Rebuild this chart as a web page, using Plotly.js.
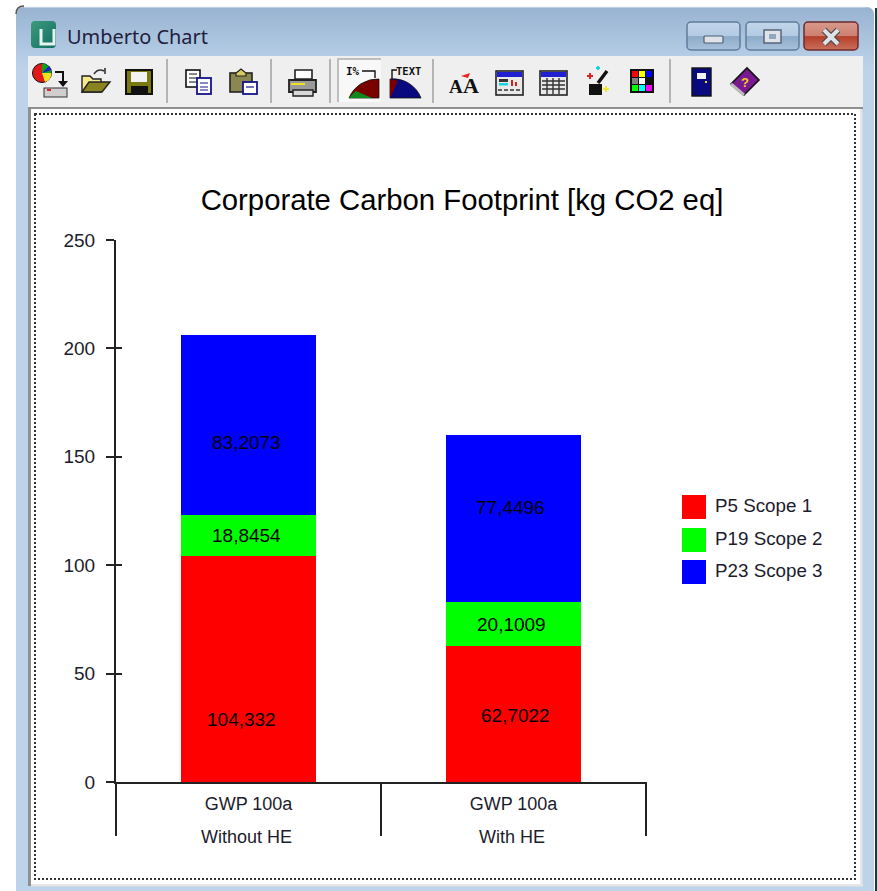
<!DOCTYPE html>
<html>
<head>
<meta charset="utf-8">
<title>Umberto Chart</title>
<script src="https://cdn.plot.ly/plotly-3.0.1.min.js"></script>
<style>
  html, body { margin: 0; padding: 0; background: #fff; }
  #stage { position: relative; width: 877px; height: 891px; overflow: hidden; }
  #frame, #chart { position: absolute; left: 0; top: 0; width: 877px; height: 891px; }
</style>
</head>
<body>
<div id="stage">
<!-- Application window around the chart: title bar, buttons, toolbar, client area -->
<svg id="frame" xmlns="http://www.w3.org/2000/svg" width="877" height="891" viewBox="0 0 877 891">
  <defs>
    <linearGradient id="cap" x1="0" y1="0" x2="0" y2="1">
      <stop offset="0" stop-color="#98b3d1"/><stop offset="0.07" stop-color="#bcd3ea"/>
    </linearGradient>
    <linearGradient id="btn" x1="0" y1="0" x2="0" y2="1">
      <stop offset="0" stop-color="#c3d6ea"/><stop offset="0.5" stop-color="#b2cae3"/>
      <stop offset="0.52" stop-color="#8caac8"/><stop offset="1" stop-color="#a9c2dc"/>
    </linearGradient>
    <linearGradient id="cls" x1="0" y1="0" x2="0" y2="1">
      <stop offset="0" stop-color="#d79a8e"/><stop offset="0.5" stop-color="#cf7f6f"/>
      <stop offset="0.52" stop-color="#b5402a"/><stop offset="1" stop-color="#c9705c"/>
    </linearGradient>
    <linearGradient id="app" x1="0" y1="0" x2="1" y2="1">
      <stop offset="0" stop-color="#3f9a7d"/><stop offset="1" stop-color="#0f6f63"/>
    </linearGradient>
  </defs>

  <path d="M16 891V14Q16 7 24 7H866Q874 7 874 15V891Z" fill="url(#cap)"/>
  <path d="M24 7H866" stroke="#e8eef5" fill="none"/>
  <path d="M16 14Q16 6 24 6" stroke="#555" fill="none" stroke-width="1.5"/>
  <rect x="875" y="8" width="2" height="883" fill="#1b3a40"/>

  <!-- title bar -->
  <rect x="31" y="21" width="25" height="27" rx="4" fill="url(#app)"/>
  <path d="M41 29V44H54V29" fill="none" stroke="#e8f3f0" stroke-width="3"/>
  <text x="67" y="44" font-family="Noto Sans, Open Sans, sans-serif" font-size="20.5" fill="#1f1d3d" textLength="141" lengthAdjust="spacingAndGlyphs">Umberto Chart</text>

  <rect x="687" y="22" width="53" height="28" rx="4" fill="url(#btn)" stroke="#5f7c9c" stroke-width="1.5"/>
  <rect x="704" y="36" width="19" height="7" rx="1" fill="#dfe3e8" stroke="#4d5e72" stroke-width="1.2"/>
  <rect x="746" y="22" width="53" height="28" rx="4" fill="url(#btn)" stroke="#5f7c9c" stroke-width="1.5"/>
  <rect x="764" y="30" width="17" height="13" fill="#dfe3e8" stroke="#4d5e72" stroke-width="1.4"/>
  <rect x="769" y="34" width="7" height="5" fill="#8fa8c2"/>
  <rect x="804" y="22" width="54" height="28" rx="4" fill="url(#cls)" stroke="#6e2a2c" stroke-width="1.5"/>
  <path d="M824 30L838 44M838 30L824 44" stroke="#4a4a4a" stroke-width="6.5"/>
  <path d="M824 30L838 44M838 30L824 44" stroke="#dfe3e8" stroke-width="4"/>

  <!-- toolbar strip -->
  <rect x="28" y="56" width="835" height="51" fill="#efefef"/>
  <g stroke="#b4b4b4" stroke-width="2">
    <path d="M167 59V103M271 59V103M330 59V103M433 59V103M670 59V103"/>
  </g>

  <!-- new chart -->
  <g>
    <circle cx="42" cy="73" r="9.5" fill="#e21818" stroke="#111" stroke-width="1"/>
    <path d="M42 73V63.5A9.5 9.5 0 0 1 51.5 73Z" fill="#10a020"/>
    <path d="M42 73H51.5A9.5 9.5 0 0 1 45 82Z" fill="#f0e020"/>
    <path d="M42 73L51.5 70A9.5 9.5 0 0 0 49 66Z" fill="#2020c0"/>
    <path d="M55 72H63V82" fill="none" stroke="#111" stroke-width="2"/>
    <path d="M58 81H68L63 87Z" fill="#111"/>
    <rect x="44" y="88" width="23" height="9" fill="#cfcfcf" stroke="#333" stroke-width="1"/>
    <rect x="47" y="89" width="4" height="2" fill="#e02020"/>
  </g>
  <!-- open -->
  <path d="M82 76H90L93 79H101V92H82Z" fill="#f6e98e" stroke="#222" stroke-width="1.4"/>
  <path d="M82 92L89 82H110L102 92Z" fill="#8a8420" stroke="#222" stroke-width="1.4"/>
  <path d="M94 74Q98 68 104 71M105 68V74" fill="none" stroke="#333" stroke-width="1.6"/>
  <!-- save -->
  <rect x="126" y="70" width="26" height="24" fill="#7b7a12" stroke="#111" stroke-width="2"/>
  <rect x="131" y="72" width="16" height="10" fill="#f3f3f3"/>
  <rect x="131" y="86" width="17" height="8" fill="#111"/>
  <!-- copy -->
  <rect x="186" y="70" width="14" height="17" fill="#fff" stroke="#111" stroke-width="1.6"/>
  <path d="M189 74H197M189 78H197M189 82H197" stroke="#111" stroke-width="1.2"/>
  <rect x="197" y="78" width="14" height="16" fill="#fff" stroke="#14148c" stroke-width="1.8"/>
  <path d="M200 83H208M200 87H208M200 90H208" stroke="#14148c" stroke-width="1.2"/>
  <!-- paste -->
  <rect x="230" y="73" width="22" height="19" fill="#8a8850" stroke="#222" stroke-width="1.6"/>
  <path d="M236 73L241 69L246 73V76H236Z" fill="#d8c860" stroke="#222" stroke-width="1.2"/>
  <rect x="243" y="82" width="14" height="12" fill="#fff" stroke="#14148c" stroke-width="1.8"/>
  <path d="M246 87H254" stroke="#14148c" stroke-width="1.2"/>
  <!-- print -->
  <path d="M295 70H312V79H295Z" fill="#fff" stroke="#222" stroke-width="1.6"/>
  <path d="M289 80H316V92H289Z" fill="#9a9a9a" stroke="#222" stroke-width="1.8"/>
  <path d="M293 96H313V90H293Z" fill="#d8d8d8" stroke="#222" stroke-width="1.4"/>
  <path d="M291 84H305" stroke="#f0e020" stroke-width="2"/>

  <!-- percent-labels toggle, pressed -->
  <rect x="338" y="59" width="43" height="43" fill="#f8f8f8"/>
  <path d="M338 102V59H381" fill="none" stroke="#adadad" stroke-width="1.5"/>
  <text x="346" y="75" font-family="DejaVu Sans Mono, monospace" font-weight="bold" font-size="11" fill="#111">I%</text>
  <path d="M362 71H375V78" fill="none" stroke="#111" stroke-width="1.4"/>
  <path d="M349 98A31 31 0 0 1 379 79V98Z" fill="#7a0000" stroke="#111" stroke-width="0.8"/>
  <path d="M349 98A31 31 0 0 1 356 91L372 98Z" fill="#0f8a1a"/>
  <!-- text-labels toggle -->
  <text x="396" y="75" font-family="DejaVu Sans Mono, monospace" font-weight="bold" font-size="10.5" fill="#111">TEXT</text>
  <path d="M397 70H392V79" fill="none" stroke="#111" stroke-width="1.4"/>
  <path d="M390 98V79A30 30 0 0 1 421 98Z" fill="#0a0a80" stroke="#111" stroke-width="0.8"/>
  <path d="M390 98V79L398 81Z" fill="#7a0000"/>

  <!-- font -->
  <text x="449" y="93" font-family="Liberation Serif, serif" font-weight="bold" font-size="19" fill="#111">A</text>
  <text x="463" y="93" font-family="Liberation Serif, serif" font-weight="bold" font-size="22" fill="#111">A</text>
  <path d="M461 76L470 73L468 78Z" fill="#e22"/>
  <!-- window -->
  <rect x="496" y="71" width="27" height="24" fill="#e8e8e8" stroke="#222" stroke-width="1.6"/>
  <rect x="497" y="72" width="25" height="5" fill="#2020d0"/>
  <rect x="499" y="79" width="9" height="3" fill="#333"/><rect x="499" y="83" width="9" height="2.5" fill="#19d3e0"/>
  <path d="M512 86V80M516 86V82" stroke="#d02020" stroke-width="2"/>
  <path d="M498 90H521" stroke="#333" stroke-width="1.6" stroke-dasharray="4 2"/>
  <!-- data table -->
  <rect x="540" y="71" width="27" height="24" fill="#e8e8e8" stroke="#222" stroke-width="1.6"/>
  <rect x="541" y="72" width="25" height="5" fill="#2020d0"/>
  <path d="M542 81H565M542 85H565M542 89H565" stroke="#333" stroke-width="1.4"/>
  <path d="M547 78V94M553 78V94M559 78V94" stroke="#333" stroke-width="1.4"/>
  <!-- wizard -->
  <path d="M598 83L607 71" stroke="#111" stroke-width="3.5"/>
  <rect x="589" y="84" width="13" height="11" fill="#111"/>
  <path d="M587 76H593M590 73V79" stroke="#e02020" stroke-width="2"/>
  <path d="M596 68H600M598 66V70" stroke="#19d3e0" stroke-width="2"/>
  <path d="M603 89H609M606 86V92" stroke="#f0e830" stroke-width="2"/>
  <!-- palette -->
  <rect x="630" y="69" width="24" height="24" fill="#111"/>
  <rect x="632" y="71" width="6" height="6" fill="#ff0000"/><rect x="639" y="71" width="6" height="6" fill="#ffff00"/><rect x="646" y="71" width="6" height="6" fill="#0000ff"/>
  <rect x="632" y="78" width="6" height="6" fill="#808080"/><rect x="639" y="78" width="6" height="6" fill="#ffffff"/><rect x="646" y="78" width="6" height="6" fill="#111"/>
  <rect x="632" y="85" width="6" height="6" fill="#00ff00"/><rect x="639" y="85" width="6" height="6" fill="#00ffff"/><rect x="646" y="85" width="6" height="6" fill="#ff00ff"/>
  <!-- exit door -->
  <rect x="692" y="68" width="19" height="28" fill="#0a0a80" stroke="#111" stroke-width="1.4"/>
  <rect x="697" y="73" width="9" height="6" fill="#f2f2f2"/>
  <rect x="705" y="81" width="2" height="2" fill="#f0e020"/>
  <!-- help book -->
  <path d="M731 84L747 68L759 80L744 95Z" fill="#7a1a90" stroke="#111" stroke-width="1.6"/>
  <path d="M731 84L744 95" stroke="#bbb" stroke-width="3"/>
  <text x="741" y="87" font-family="Liberation Sans, sans-serif" font-weight="bold" font-size="13" fill="#f0d020">?</text>

  <!-- client area -->
  <rect x="28" y="107" width="835" height="2.5" fill="#8f8f8f"/>
  <rect x="28" y="107" width="3" height="779" fill="#8f8f8f"/>
  <rect x="31" y="109" width="830" height="775" fill="#ffffff"/>
  <rect x="31" y="884" width="832" height="2.5" fill="#e6e6e6"/>
  <rect x="860" y="109" width="2.5" height="777" fill="#e6e6e6"/>
  <rect x="35" y="114" width="820" height="765" fill="none" stroke="#333" stroke-width="2" stroke-dasharray="2 2"/>
</svg>

<div id="chart"></div>
</div>

<script>
// Chart values
const scopeNames = ['P5 Scope 1', 'P19 Scope 2', 'P23 Scope 3'];
const scopeColors = ['#ff0000', '#00ff00', '#0000ff'];
const impactRow = ['GWP 100a', 'GWP 100a'];
const scenarioRow = ['Without HE', 'With HE'];
const scope1Values = [104.332, 62.7022];
const scope2Values = [18.8454, 20.1009];
const scope3Values = [83.2073, 77.4496];
// Where the application happened to print each value label (y units, category units)
const scope1LabelHeights = [28.9, 30.7];
const scope2LabelHeights = [113.9, 72.5];
const scope3LabelHeights = [156.5, 126.8];
const scope1LabelCentres = [-0.026, 1.009];
const scope2LabelCentres = [-0.008, 0.994];
const scope3LabelCentres = [-0.006, 0.987];
const yTickValues = [0, 50, 100, 150, 200, 250];
const chartTitle = 'Corporate Carbon Footprint [kg CO2 eq]';

const W = 877, H = 891;
const plot = {left: 116, right: 646, top: 240, bottom: 782};
const FONT = 'Liberation Sans, Arial, sans-serif';
const INK = '#222222';

const seriesValues = [scope1Values, scope2Values, scope3Values];
const labelHeights = [scope1LabelHeights, scope2LabelHeights, scope3LabelHeights];
const labelCentres = [scope1LabelCentres, scope2LabelCentres, scope3LabelCentres];

// Decimal comma, as the application prints its numbers
const decimalComma = v => String(v).replace('.', ',');

const bars = seriesValues.map((vals, i) => ({
  type: 'bar',
  name: scopeNames[i],
  x: scenarioRow,
  y: vals,
  width: 0.51,
  marker: {color: scopeColors[i], line: {width: 0}},
  hoverinfo: 'name+y',
  showlegend: false
}));

// Empty trace that brings the second left axis into the plot
const tickCarrier = {
  type: 'scatter', mode: 'none', x: scenarioRow, y: [0, 250],
  yaxis: 'y2', hoverinfo: 'skip', showlegend: false
};

const valueLabels = [];
seriesValues.forEach((vals, i) => vals.forEach((v, j) => valueLabels.push({
  xref: 'x', yref: 'y',
  x: labelCentres[i][j], y: labelHeights[i][j],
  xanchor: 'center', yanchor: 'middle',
  text: decimalComma(v), showarrow: false,
  font: {family: FONT, size: 19, color: '#000000'}
})));

// Helpers to place the key and dividers in page pixels on the paper reference frame
const paperX = px => (px - plot.left) / (plot.right - plot.left);
const paperY = py => (plot.bottom - py) / (plot.bottom - plot.top);

const keyRows = [507, 540, 572];
const keyShapes = scopeNames.map((_, i) => ({
  type: 'rect', xref: 'paper', yref: 'paper',
  x0: paperX(682), x1: paperX(706),
  y0: paperY(keyRows[i] + 12), y1: paperY(keyRows[i] - 12),
  fillcolor: scopeColors[i], line: {width: 0}
}));
const keyLabels = scopeNames.map((name, i) => ({
  xref: 'paper', yref: 'paper',
  x: paperX(713), y: paperY(keyRows[i] - 1.5),
  xanchor: 'left', yanchor: 'middle',
  text: name, showarrow: false,
  font: {family: FONT, size: 18.8, color: '#1c1c2c'}
}));

// Second row of the category axis, below the tick labels
const scenarioLabels = scenarioRow.map((name, j) => ({
  xref: 'x', yref: 'paper',
  x: j - 0.006, y: paperY(837),
  xanchor: 'center', yanchor: 'middle',
  text: name, showarrow: false,
  font: {family: FONT, size: 18, color: '#1c1c2c'}
}));

// Group separators under the axis, one at each category boundary
const dividers = [0, 1, 2].map(k => ({
  type: 'line', xref: 'paper', yref: 'paper',
  x0: k / scenarioRow.length, x1: k / scenarioRow.length,
  y0: 0, y1: paperY(836),
  line: {color: INK, width: 2}
}));

const layout = {
  width: W, height: H,
  paper_bgcolor: 'rgba(0,0,0,0)',
  plot_bgcolor: 'rgba(0,0,0,0)',
  margin: {l: plot.left, r: W - plot.right, t: plot.top, b: H - plot.bottom, pad: 0},
  barmode: 'stack',
  showlegend: false,
  title: {
    text: chartTitle,
    font: {family: FONT, size: 29.3, color: '#000000'},
    x: 462 / W, xanchor: 'center',
    y: 1 - 200 / H, yanchor: 'middle'
  },
  xaxis: {
    type: 'category',
    tickmode: 'array', tickvals: scenarioRow, ticktext: impactRow,
    showline: true, linecolor: INK, linewidth: 2,
    showgrid: false, zeroline: false,
    ticks: '',
    ticklabelstandoff: 4,
    tickangle: 0,
    tickfont: {family: FONT, size: 18, color: '#1c1c2c'}
  },
  yaxis: {
    range: [0, 250], tickmode: 'array', tickvals: yTickValues,
    showline: true, linecolor: INK, linewidth: 2,
    showgrid: false, zeroline: false,
    ticks: 'outside', ticklen: 8, tickwidth: 2, tickcolor: INK,
    ticklabelstandoff: 7,
    tickfont: {family: FONT, size: 19, color: '#1c1c2c'}
  },
  // Second left axis only adds the inner half of the crossing tick marks
  yaxis2: {
    overlaying: 'y', side: 'left', anchor: 'x',
    range: [0, 250], tickmode: 'array', tickvals: yTickValues,
    showline: false, showgrid: false, zeroline: false,
    ticks: 'inside', ticklen: 6, tickwidth: 2, tickcolor: INK,
    showticklabels: false
  },
  shapes: keyShapes.concat(dividers),
  annotations: keyLabels.concat(valueLabels, scenarioLabels)
};

Plotly.newPlot('chart', bars.concat([tickCarrier]), layout, {displayModeBar: false, staticPlot: true});
</script>
</body>
</html>
